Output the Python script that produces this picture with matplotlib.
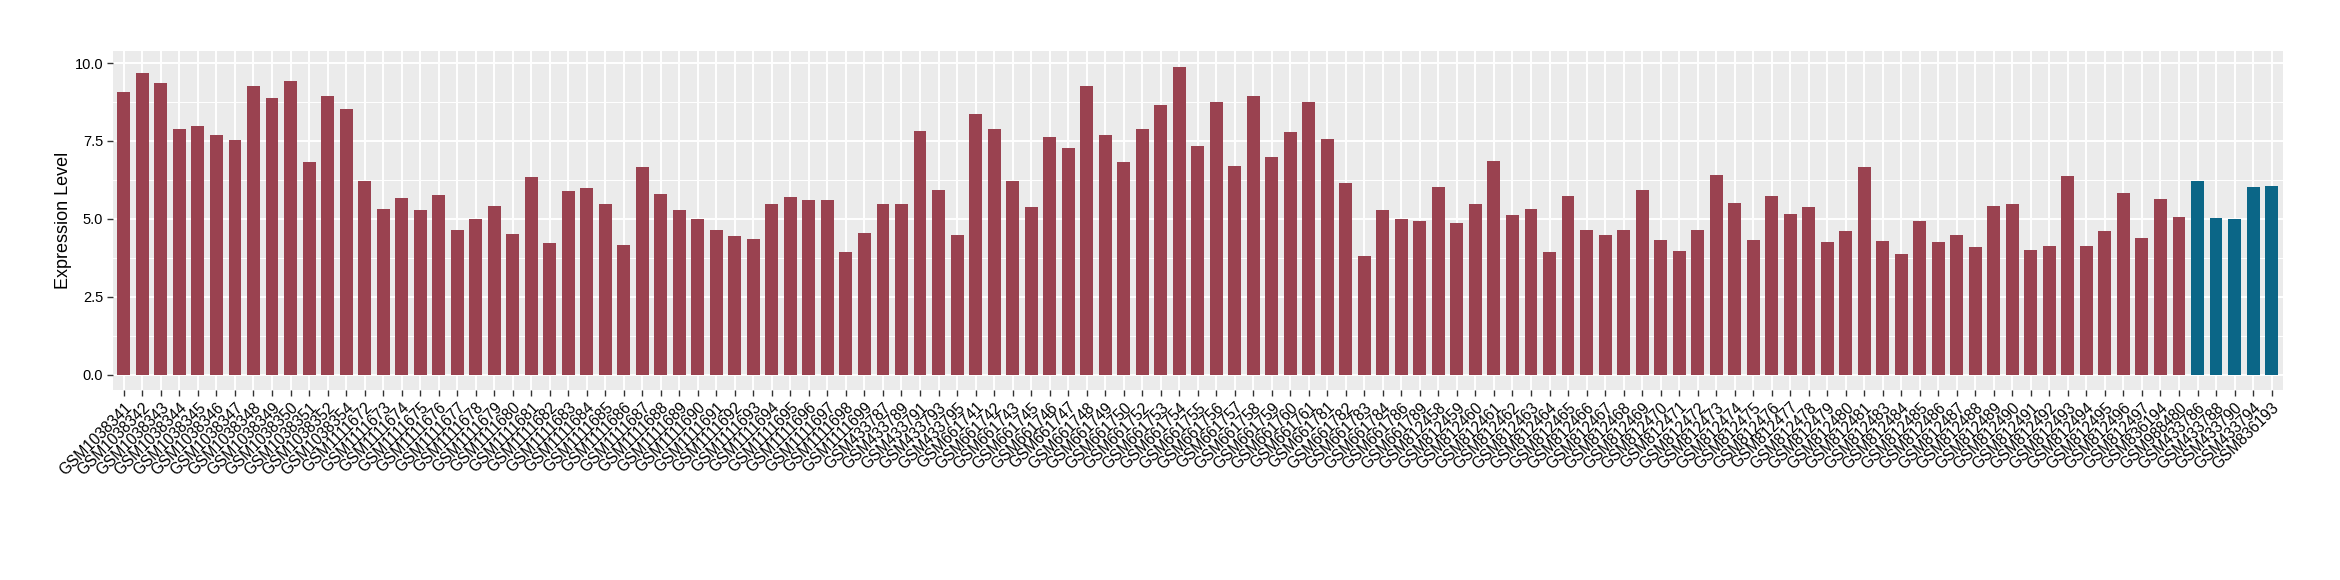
"""
Expression level per sample - bar chart in ggplot grey style
"""

import matplotlib.pyplot as plt
from matplotlib.ticker import MultipleLocator

samples = (
    ["GSM10383" + s for s in ["41", "42", "43", "44", "45", "46", "47", "48", "49", "50", "51", "52", "54"]]
    + ["GSM1111" + str(n) for n in range(672, 700)]
    + ["GSM433787", "GSM433789", "GSM433791", "GSM433793", "GSM433795"]
    + ["GSM6617" + s for s in ["41", "42", "43", "45", "46", "47", "48", "49", "50", "52", "53", "54",
                                "55", "56", "57", "58", "59", "60", "61", "81", "82", "83", "84", "86", "89"]]
    + ["GSM8124" + s for s in ["58", "59", "60", "61", "62", "63", "64", "65", "66", "67", "68", "69",
                                "70", "71", "72", "73", "74", "75", "76", "77", "78", "79", "80", "81",
                                "83", "84", "85", "86", "87", "88", "89", "90", "91", "92", "93", "94",
                                "95", "96", "97"]]
    + ["GSM836194", "GSM988480"]
    + ["GSM433786", "GSM433788", "GSM433790", "GSM433794", "GSM836193"]
)

expression = [
    9.08, 9.68, 9.37, 7.89, 7.98, 7.69, 7.52, 9.28, 8.88, 9.42, 6.83, 8.93, 8.53,
    6.22, 5.33, 5.67, 5.27, 5.76, 4.63, 4.98, 5.41, 4.52, 6.34, 4.23, 5.88, 5.99, 5.47, 4.17,
    6.65, 5.79, 5.27, 5.01, 4.63, 4.46, 4.35, 5.47, 5.70, 5.62, 5.59, 3.94, 4.55,
    5.47, 5.47, 7.81, 5.93, 4.49,
    8.36, 7.89, 6.22, 5.38, 7.63, 7.29, 9.25, 7.69, 6.83, 7.89, 8.64, 9.88, 7.35, 8.76,
    6.71, 8.96, 6.97, 7.78, 8.76, 7.55, 6.16, 3.80, 5.30, 4.98, 4.92,
    6.02, 4.87, 5.47, 6.86, 5.13, 5.33, 3.94, 5.73, 4.63, 4.49, 4.63, 5.93, 4.32, 3.97,
    4.63, 6.42, 5.50, 4.32, 5.73, 5.15, 5.38, 4.26, 4.61, 6.65, 4.29, 3.88, 4.92, 4.26,
    4.49, 4.09, 5.41, 5.47, 4.00, 4.14, 6.37, 4.12, 4.61, 5.82, 4.37,
    5.64, 5.07,
    6.22, 5.04, 5.01, 6.02, 6.05,
]

# last five samples are the highlighted group
group = ["other"] * (len(samples) - 5) + ["highlight"] * 5
group_colors = {"other": "#9A4250", "highlight": "#0B6687"}

plt.rcParams["font.family"] = ["Liberation Sans", "DejaVu Sans"]

fig = plt.figure(figsize=(23.4, 5.8), dpi=100)
ax = fig.add_axes([0.0482, 0.3276, 0.9273, 0.5845])

x = range(len(samples))
ax.bar(x, expression, width=0.7, color=[group_colors[g] for g in group], zorder=3)

ax.set_facecolor("#EBEBEB")
for side in ax.spines.values():
    side.set_visible(False)

ax.set_xlim(-0.6, len(samples) - 0.4)
ax.set_ylim(-0.495, 10.39)
ax.yaxis.set_major_locator(MultipleLocator(2.5))
ax.yaxis.set_minor_locator(MultipleLocator(1.25))
ax.set_yticks([0, 2.5, 5, 7.5, 10])
ax.set_yticklabels(["0.0", "2.5", "5.0", "7.5", "10.0"])
ax.grid(which="major", color="white", linewidth=1.4, zorder=0)
ax.grid(which="minor", axis="y", color="white", linewidth=0.7, zorder=0)

ax.set_xticks(list(x))
ax.set_xticklabels(samples, rotation=45, ha="right", va="top", rotation_mode="anchor")
ax.tick_params(axis="both", which="major", length=4, width=1, color="#333333", labelcolor="black")
ax.tick_params(axis="y", which="minor", length=0)
ax.tick_params(axis="x", labelsize=11.2, pad=3)
ax.tick_params(axis="y", labelsize=10.5, pad=3)

ax.set_ylabel("Expression Level", fontsize=13, labelpad=1.5)

plt.savefig("out.png", dpi=100)
